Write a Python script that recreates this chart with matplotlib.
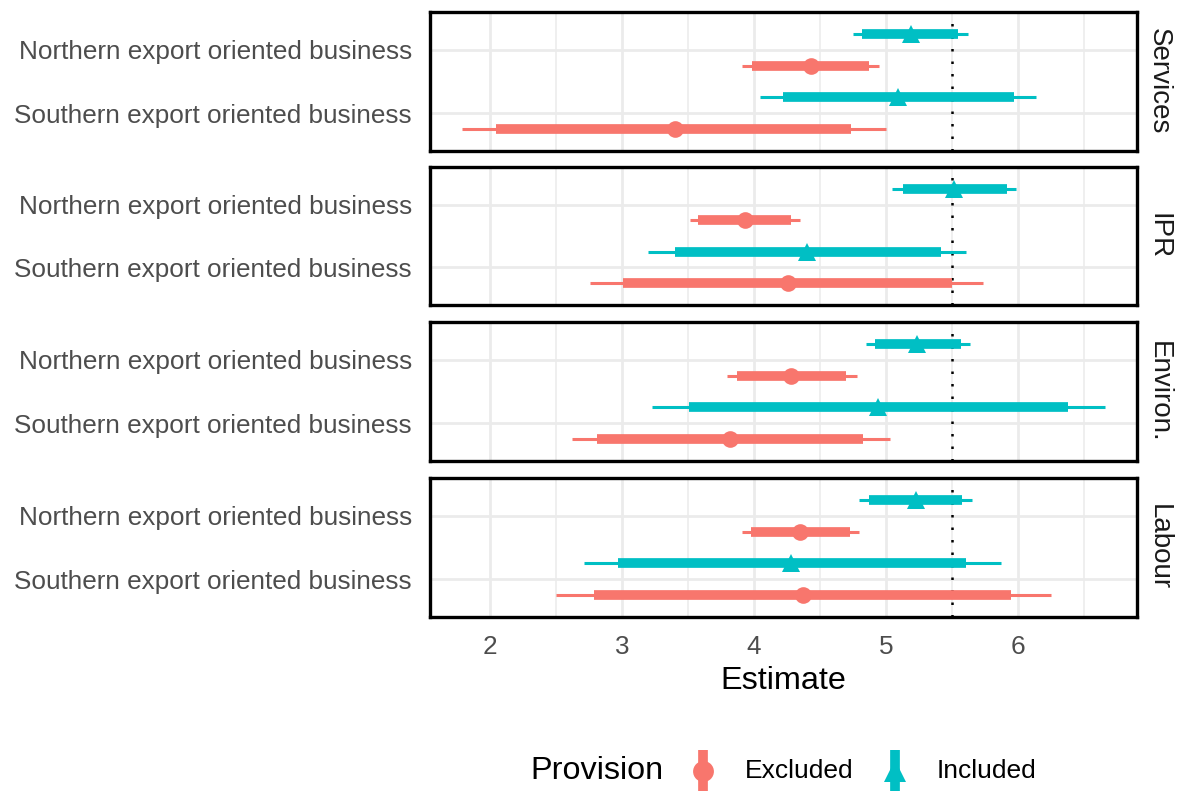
import numpy as np
import matplotlib.pyplot as plt

plt.rcParams['font.family'] = ['Liberation Sans', 'DejaVu Sans']

facets = ["Services", "IPR", "Environ.", "Labour"]
groups = ["Southern export oriented business", "Northern export oriented business"]
provisions = ["Excluded", "Included"]

# values per facet, [Southern, Northern]
excl_est = [[3.40, 4.43], [4.26, 3.93], [3.82, 4.28], [4.37, 4.35]]
excl_lo95 = [[1.79, 3.91], [2.76, 3.52], [2.62, 3.80], [2.50, 3.91]]
excl_hi95 = [[5.00, 4.95], [5.74, 4.35], [5.03, 4.78], [6.25, 4.80]]
excl_lo66 = [[2.05, 3.99], [3.01, 3.58], [2.81, 3.87], [2.79, 3.98]]
excl_hi66 = [[4.74, 4.87], [5.50, 4.28], [4.83, 4.70], [5.95, 4.73]]

incl_est = [[5.09, 5.19], [4.40, 5.52], [4.94, 5.24], [4.28, 5.23]]
incl_lo95 = [[4.05, 4.75], [3.20, 5.05], [3.23, 4.85], [2.71, 4.80]]
incl_hi95 = [[6.14, 5.62], [5.61, 5.99], [6.66, 5.64], [5.87, 5.65]]
incl_lo66 = [[4.22, 4.82], [3.40, 5.13], [3.51, 4.92], [2.97, 4.87]]
incl_hi66 = [[5.97, 5.55], [5.42, 5.92], [6.38, 5.57], [5.61, 5.58]]

midpoint = 5.5

colors = {"Excluded": "#F8766D", "Included": "#00BFC4"}
markers = {"Excluded": "o", "Included": "^"}
msize = {"Excluded": 12, "Included": 13}
dodge = {"Excluded": -0.25, "Included": 0.25}
series = {
    "Excluded": (excl_est, excl_lo95, excl_hi95, excl_lo66, excl_hi66),
    "Included": (incl_est, incl_lo95, incl_hi95, incl_lo66, incl_hi66),
}

# x range with 5% expansion like ggplot
all_vals = np.concatenate([np.ravel(v) for s in series.values() for v in s])
rng = all_vals.max() - all_vals.min()
xlim = (all_vals.min() - 0.05 * rng, all_vals.max() + 0.05 * rng)

W, H = 1183, 791
fig = plt.figure(figsize=(W / 100, H / 100), dpi=100)

panel_px = [(12, 151), (167, 305), (322, 461), (478, 617)]
left_px, right_px = 430, 1137
grid_col = "#EBEBEB"
text_grey = "#4D4D4D"

axes = []
for i, facet in enumerate(facets):
    top, bot = panel_px[i]
    ax = fig.add_axes([left_px / W, 1 - bot / H, (right_px - left_px) / W, (bot - top) / H])
    axes.append(ax)
    ax.set_xlim(*xlim)
    ax.set_ylim(0.4, 2.6)

    for gx in np.arange(2.5, 7.0, 1.0):
        ax.axvline(gx, color=grid_col, lw=1.1, zorder=0)
    for gx in range(2, 7):
        ax.axvline(gx, color=grid_col, lw=2.0, zorder=0)
    for gy in (1, 2):
        ax.axhline(gy, color=grid_col, lw=2.0, zorder=0)

    ax.axvline(midpoint, color="black", lw=1.8, linestyle=(0, (1, 4)), zorder=1)

    for prov in provisions:
        est, lo95, hi95, lo66, hi66 = series[prov]
        for g in range(len(groups)):
            y = g + 1 + dodge[prov]
            c = colors[prov]
            ax.plot([lo95[i][g], hi95[i][g]], [y, y], color=c, lw=2.2,
                    solid_capstyle="butt", zorder=2)
            ax.plot([lo66[i][g], hi66[i][g]], [y, y], color=c, lw=7,
                    solid_capstyle="butt", zorder=3)
            ax.plot(est[i][g], y, marker=markers[prov], color=c,
                    markersize=msize[prov], markeredgewidth=0, zorder=4)

    ax.set_yticks([1, 2])
    ax.set_yticklabels(groups)
    ax.set_xticks(range(2, 7))
    ax.tick_params(length=0, labelsize=18.8, labelcolor=text_grey)
    ax.tick_params(axis="y", pad=13)
    ax.tick_params(axis="x", pad=13)
    if i < len(facets) - 1:
        ax.set_xticklabels([])
    for sp in ax.spines.values():
        sp.set_linewidth(2.4)
        sp.set_color("black")

    ax.text(1.012, 0.5, facet, transform=ax.transAxes, rotation=270,
            ha="left", va="center", fontsize=20, color="#1A1A1A")

axes[-1].set_xlabel("Estimate", fontsize=23.3, labelpad=5)

# legend at the bottom
lax = fig.add_axes([0, 0, 1, 60 / H])
lax.set_xlim(0, W)
lax.set_ylim(H, H - 60)
lax.axis("off")
lax.text(530, 771, "Provision", fontsize=23.3, va="center", ha="left")
key_x = {"Excluded": 703, "Included": 895}
for prov in provisions:
    kx = key_x[prov]
    lax.plot([kx, kx], [750, 795], color=colors[prov], lw=7, solid_capstyle="butt",
             clip_on=False)
    lax.plot(kx, 771, marker=markers[prov], color=colors[prov],
             markersize=msize[prov] + 3, markeredgewidth=0)
    lax.text(kx + 42, 771, prov, fontsize=19, va="center", ha="left")

fig.savefig("out.png", dpi=100)
